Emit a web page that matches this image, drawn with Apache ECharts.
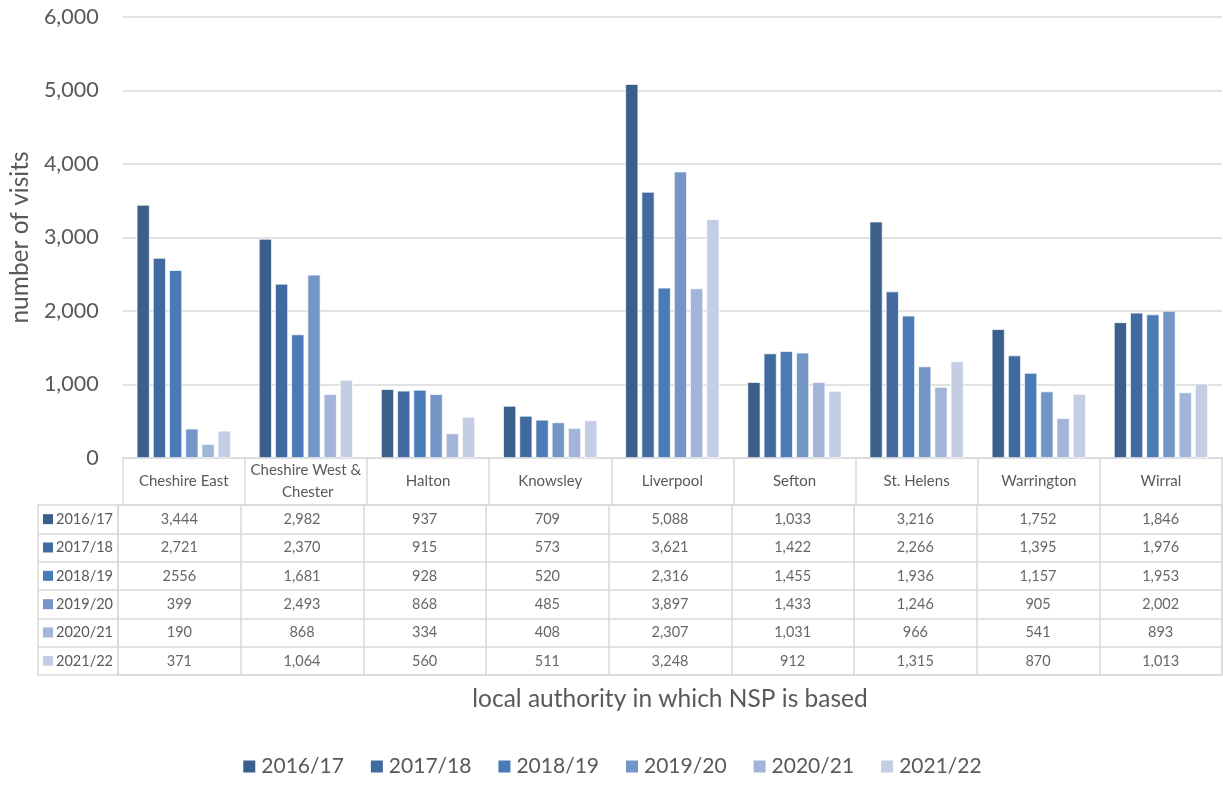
<!DOCTYPE html>
<html><head><meta charset="utf-8">
<script src="https://cdn.jsdelivr.net/npm/echarts@6/dist/echarts.min.js"></script>
<style>html,body{margin:0;padding:0;background:#fff}#c{width:1223px;height:785px}</style>
</head><body><div id="c"></div>
<script>
const categories = ['Cheshire East','Cheshire West & Chester','Halton','Knowsley','Liverpool','Sefton','St. Helens','Warrington','Wirral'];
const years = ['2016/17','2017/18','2018/19','2019/20','2020/21','2021/22'];
const v2016 = [3444, 2982, 937, 709, 5088, 1033, 3216, 1752, 1846];
const v2017 = [2721, 2370, 915, 573, 3621, 1422, 2266, 1395, 1976];
const v2018 = [2556, 1681, 928, 520, 2316, 1455, 1936, 1157, 1953];
const v2019 = [399, 2493, 868, 485, 3897, 1433, 1246, 905, 2002];
const v2020 = [190, 868, 334, 408, 2307, 1031, 966, 541, 893];
const v2021 = [371, 1064, 560, 511, 3248, 912, 1315, 870, 1013];
const yTicks = [0, 1000, 2000, 3000, 4000, 5000, 6000];
// table cells shown without thousands separator in the source: [categoryIndex, yearIndex]
const unformattedCells = [[0, 2]];

const seriesValues = [v2016, v2017, v2018, v2019, v2020, v2021];
const colors = ['#3a5f8b', '#416ba0', '#4a7bb6', '#7496c6', '#a2b4d7', '#c3cde3'];
const FONT = 'Lato, "Open Sans", sans-serif';
const GREY = '#595959';
const LINE = '#d9d9d9';

const fmt = n => n.toLocaleString('en-US');
const rich = {};
colors.forEach((c, i) => { rich['k' + i] = {width: 10, height: 10, backgroundColor: c}; });
rich.t = {fontSize: 14.5, color: GREY, fontFamily: FONT, padding: [0, 0, 0, 3]};

const barSeries = seriesValues.map((vals, i) => ({
  name: years[i], type: 'bar', xAxisIndex: 0, yAxisIndex: 0,
  data: vals, barGap: '25%', barCategoryGap: '23%',
  itemStyle: {color: colors[i], borderColor: '#ffffff', borderWidth: 0.7},
  emphasis: {disabled: true}
}));

const tableData = [];
seriesValues.forEach((vals, yi) => vals.forEach((v, ci) => tableData.push([categories[ci], years[yi], v])));
const tableSeries = {
  type: 'scatter', xAxisIndex: 1, yAxisIndex: 1, symbolSize: 0, silent: true,
  data: tableData,
  label: {
    show: true, position: 'inside', fontSize: 14.5, color: '#404040', fontFamily: FONT,
    formatter: p => {
      const ci = categories.indexOf(p.value[0]), yi = years.indexOf(p.value[1]);
      const raw = unformattedCells.some(c => c[0] === ci && c[1] === yi);
      return raw ? String(p.value[2]) : fmt(p.value[2]);
    }
  }
};

const option = {
  animation: false,
  textStyle: {fontFamily: FONT},
  color: colors,
  grid: [
    {left: 118, right: 1, top: 17, height: 441},
    {left: 118, right: 1, top: 505, height: 170, show: true, borderColor: LINE, borderWidth: 1.5, backgroundColor: 'transparent'}
  ],
  legend: {
    bottom: 3, left: 'center', icon: 'rect', itemWidth: 14, itemHeight: 14, itemGap: 25,
    textStyle: {fontSize: 21, color: GREY, fontFamily: FONT},
    data: years
  },
  xAxis: [
    {
      type: 'category', gridIndex: 0, data: categories,
      axisLine: {show: true, lineStyle: {color: LINE, width: 1.5}},
      axisTick: {show: true, length: 47, lineStyle: {color: LINE, width: 1.5}},
      axisLabel: {margin: 23, verticalAlign: 'middle', fontSize: 15, color: GREY, fontFamily: FONT, width: 115, overflow: 'break', lineHeight: 22, interval: 0}
    },
    {
      type: 'category', gridIndex: 1, data: categories,
      axisLine: {show: false}, axisTick: {show: false}, axisLabel: {show: false},
      splitLine: {show: true, interval: 0, lineStyle: {color: LINE, width: 1.5}},
      name: 'local authority in which NSP is based', nameLocation: 'middle', nameGap: 12,
      nameTextStyle: {fontSize: 24.5, color: GREY, fontFamily: FONT}
    }
  ],
  yAxis: [
    {
      type: 'value', gridIndex: 0, min: yTicks[0], max: yTicks[yTicks.length - 1], interval: 1000,
      axisLine: {show: false}, axisTick: {show: false},
      axisLabel: {fontSize: 21.5, color: GREY, margin: 24, fontFamily: FONT, formatter: v => fmt(v)},
      splitLine: {lineStyle: {color: LINE, width: 1.5}},
      name: 'number of visits', nameLocation: 'middle', nameGap: 86, nameRotate: 90,
      nameTextStyle: {fontSize: 24.5, color: GREY, fontFamily: FONT}
    },
    {
      type: 'category', gridIndex: 1, data: years, inverse: true,
      axisLine: {show: false},
      axisTick: {show: true, length: 80, lineStyle: {color: LINE, width: 1.5}},
      axisLabel: {
        align: 'left', margin: 75, interval: 0,
        formatter: (v) => '{k' + years.indexOf(v) + '|}{t|' + v + '}', rich: rich
      },
      splitLine: {show: true, interval: 0, lineStyle: {color: LINE, width: 1.5}}
    },
    {
      type: 'category', gridIndex: 1, data: years, inverse: true, position: 'left', offset: 80,
      axisLine: {show: true, lineStyle: {color: LINE, width: 1.5}},
      axisTick: {show: false}, axisLabel: {show: false}, splitLine: {show: false}
    }
  ],
  series: barSeries.concat([tableSeries])
};
const chart = echarts.init(document.getElementById('c'), null, {renderer: 'canvas'});
chart.setOption(option);
</script></body></html>
